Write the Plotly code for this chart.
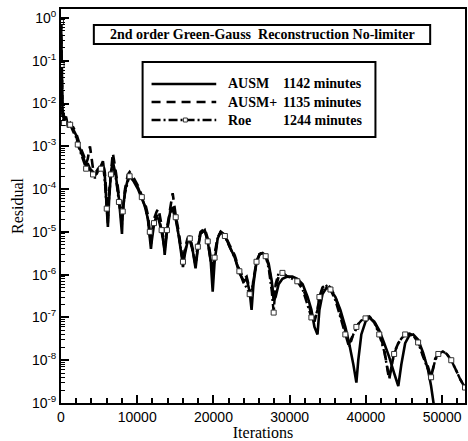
import plotly.graph_objects as go

iters = [0, 20, 50, 80, 130, 200, 400, 650, 900, 1200, 1600, 2000, 2200, 2600, 3000, 3300, 3500, 3800,
         4200, 4450, 4850, 5250, 5500, 5750, 6000, 6150, 6300, 6550, 6800, 7200, 7600, 7850, 8000, 8100,
         8400, 8770, 9000, 9550, 10100, 10600, 11000, 11400, 11650, 11800, 11900, 12200, 12550, 12800,
         13200, 13500, 13600, 13900, 14300, 14650, 15050, 15450, 15850, 16000, 16250, 16600, 16900, 17300,
         17650, 17950, 18300, 18850, 19250, 19650, 19900, 20150, 20550, 20950, 21500, 22100, 22800, 23400,
         24000, 24350, 24750, 25000, 25250, 25650, 26050, 26450, 26850, 27250, 27650, 27900, 28150, 28550,
         29050, 29700, 30350, 31000, 31700, 32350, 32850, 33250, 33650, 33900, 34300, 34850, 35350, 36000,
         36650, 37300, 37800, 38350, 38750, 39000, 39400, 39950, 40450, 41100, 41750, 42400, 43050, 43700,
         44250, 44650, 45150, 45700, 46200, 46850, 47500, 48150, 48550, 48950, 49100, 49500, 50100, 50600,
         51200, 51800, 52400, 53000]

res_ausm = [1.0, 0.6, 0.3, 0.1, 0.02, 6e-3, 4e-3, 5e-3, 3e-3, 3.5e-3, 2.5e-3, 1.8e-3, 1.2e-3, 8e-4, 5e-4,
            3.5e-4, 4e-4, 3e-4, 2.5e-4, 2e-4, 3e-4, 3.5e-4, 4.5e-4, 2e-4, 4e-5, 1.3e-5, 5e-5, 2.5e-4, 4.5e-4,
            2e-4, 6e-5, 2e-5, 9e-6, 3e-5, 9e-5, 1.7e-4, 2e-4, 1.5e-4, 1e-4, 6e-5, 4e-5, 2e-5, 8e-6, 4e-6,
            6e-6, 1.5e-5, 2.2e-5, 2e-5, 1e-5, 5e-6, 2.9e-6, 1e-5, 2.8e-5, 3.3e-5, 2e-5, 8e-6, 2.5e-6, 1.5e-6,
            3e-6, 6e-6, 6.5e-6, 3.5e-6, 1.4e-6, 4e-6, 9e-6, 1.1e-5, 6e-6, 2e-6, 4e-7, 2e-6, 7e-6, 1e-5, 8e-6,
            4.5e-6, 2.5e-6, 1.1e-6, 7e-7, 8e-7, 4e-7, 1.5e-7, 6e-7, 2e-6, 3e-6, 3.2e-6, 2.8e-6, 1.8e-6, 7e-7,
            2.5e-7, 3e-7, 6e-7, 8e-7, 9e-7, 9e-7, 8e-7, 6e-7, 3e-7, 1.5e-7, 6e-8, 4e-8, 1.5e-7, 3.5e-7, 5e-7,
            4.5e-7, 3e-7, 1.5e-7, 6e-8, 2.5e-8, 8e-9, 3e-9, 1e-8, 4e-8, 8e-8, 1e-7, 8e-8, 5e-8, 2.5e-8, 1.2e-8,
            5e-9, 2.5e-9, 8e-9, 2.5e-8, 3.8e-8, 4e-8, 3e-8, 1.5e-8, 6e-9, 2.5e-9, 8e-10, 5e-10, None, None,
            None, None, None, None, None]

res_ausmp = [0.9, 0.5, 0.25, 0.09, 0.03, 7e-3, 5e-3, 4e-3, 3.5e-3, 3e-3, 2.8e-3, 2e-3, 1.5e-3, 9e-4, 6e-4,
             4e-4, 5e-4, 1e-3, 3e-4, 2.5e-4, 2.8e-4, 3.2e-4, 4e-4, 2.5e-4, 6e-5, 2e-5, 8e-5, 3e-4, 7e-4,
             2.5e-4, 8e-5, 3e-5, 2e-5, 3e-5, 1e-4, 2.2e-4, 2.5e-4, 1.8e-4, 1.2e-4, 7e-5, 5e-5, 2.5e-5, 1.2e-5,
             6e-6, 9e-6, 2e-5, 3e-5, 3.5e-5, 1.4e-5, 6e-6, 4e-6, 1.2e-5, 3.5e-5, 8e-5, 2.4e-5, 1e-5, 3e-6,
             2e-6, 4e-6, 7e-6, 8e-6, 4e-6, 2e-6, 5e-6, 1e-5, 1.2e-5, 7e-6, 2.5e-6, 1.2e-6, 3e-6, 7.5e-6, 1e-5,
             8.5e-6, 5e-6, 2.8e-6, 1.3e-6, 8e-7, 9e-7, 5e-7, 3e-7, 8e-7, 2e-6, 3e-6, 3.3e-6, 2.9e-6, 1.6e-6,
             6e-7, 2.5e-7, 5e-7, 9e-7, 1.1e-6, 9e-7, 8.5e-7, 7.5e-7, 5e-7, 2.5e-7, 1.2e-7, 8e-8, 1.5e-7, 3e-7,
             5e-7, 6e-7, 5e-7, 3e-7, 1.2e-7, 5e-8, 2.5e-8, 4e-8, 6e-8, 7e-8, 8.5e-8, 1e-7, 1.05e-7, 8e-8,
             4.5e-8, 1.8e-8, 3.5e-9, 1.5e-8, 2.5e-8, 3.2e-8, 4e-8, 4.2e-8, 3.8e-8, 2.8e-8, 1.3e-8, 7e-9, 4e-9,
             9e-9, 1.1e-8, 1.4e-8, 1.6e-8, 1.4e-8, 1e-8, 6e-9, 3.5e-9, 2.3e-9]

res_roe = [0.8, 0.45, 0.2, 0.08, 0.015, 5e-3, 3.5e-3, 4.5e-3, 2.8e-3, 3.2e-3, 2.2e-3, 1.6e-3, 1.1e-3, 7e-4,
           4.5e-4, 3e-4, 3.5e-4, 2.8e-4, 2.2e-4, 1.8e-4, 2.6e-4, 3e-4, 4e-4, 1.5e-4, 3.5e-5, 1.6e-5, 6e-5,
           2.2e-4, 4e-4, 1.8e-4, 5e-5, 2e-5, 1.5e-5, 3e-5, 8e-5, 1.5e-4, 2e-4, 1.6e-4, 1.1e-4, 6.5e-5, 4e-5,
           2e-5, 1e-5, 5e-6, 8e-6, 1.6e-5, 2.4e-5, 2.4e-5, 1.1e-5, 5e-6, 3.5e-6, 1.1e-5, 3e-5, 3.8e-5, 2.2e-5,
           8e-6, 2.5e-6, 2e-6, 3.5e-6, 6e-6, 7e-6, 3.5e-6, 1.6e-6, 4.5e-6, 9e-6, 1.1e-5, 6e-6, 2.2e-6, 1e-6,
           2.5e-6, 7e-6, 1e-5, 8e-6, 4.5e-6, 2.5e-6, 1.2e-6, 6e-7, 5e-7, 3.5e-7, 4e-7, 8e-7, 2e-6, 3e-6,
           3.2e-6, 2.7e-6, 1.4e-6, 4e-7, 1.3e-7, 6e-7, 1.1e-6, 1.1e-6, 9e-7, 8e-7, 7e-7, 4.5e-7, 2e-7, 1e-7,
           9e-8, 1.5e-7, 3e-7, 4.5e-7, 5.5e-7, 4.5e-7, 2.5e-7, 1e-7, 4e-8, 2e-8, 4e-8, 6e-8, 7e-8, 8.5e-8,
           9.5e-8, 1e-7, 7.5e-8, 4e-8, 1.6e-8, 4e-9, 1.4e-8, 2.5e-8, 3.2e-8, 4e-8, 4.2e-8, 3.8e-8, 2.6e-8,
           1.2e-8, 6e-9, 4e-9, 8e-9, 1e-8, 1.4e-8, 1.6e-8, 1.4e-8, 1e-8, 6e-9, 3.5e-9, 2.3e-9]

y_exps = [-9, -8, -7, -6, -5, -4, -3, -2, -1, 0]
title_text = "2nd order Green-Gauss  Reconstruction No-limiter"
legend_names = ["AUSM", "AUSM+", "Roe"]
legend_times = ["1142 minutes", "1135 minutes", "1244 minutes"]

W, H = 468, 441
ML, MR, MT, MB = 61, 1, 9, 38
PW, PH = W - ML - MR, H - MT - MB


def px(xp):
    return (xp - ML) / PW


def py(yp):
    return (H - MB - yp) / PH


fig = go.Figure()
fig.add_trace(go.Scatter(x=iters, y=res_ausm, mode="lines", name="AUSM",
                         line=dict(color="black", width=2.6, dash="solid"), connectgaps=False))
fig.add_trace(go.Scatter(x=iters, y=res_ausmp, mode="lines", name="AUSM+",
                         line=dict(color="black", width=2.6, dash="9px,6px")))
fig.add_trace(go.Scatter(x=iters, y=res_roe, mode="lines+markers", name="Roe",
                         line=dict(color="black", width=2.4, dash="9px,3px,2px,3px"),
                         marker=dict(symbol="square", size=5, color="white",
                                     line=dict(width=1, color="#333"), maxdisplayed=55)))

serif = "Liberation Serif"
sans = "Liberation Sans"

shapes = []
ann = []
# title box
shapes.append(dict(type="rect", xref="paper", yref="paper", x0=px(94), x1=px(432), y0=py(44), y1=py(25),
                   line=dict(color="black", width=2), fillcolor="white", layer="above"))
ann.append(dict(xref="paper", yref="paper", x=px(263), y=py(34.5), text="<b>" + title_text + "</b>",
                showarrow=False, xanchor="center", yanchor="middle",
                font=dict(family=serif, size=14, color="black")))
# legend box
shapes.append(dict(type="rect", xref="paper", yref="paper", x0=px(143), x1=px(377), y0=py(137), y1=py(62),
                   line=dict(color="black", width=2), fillcolor="white", layer="above"))
dashes = ["solid", "9px,6px", "9px,3px,2px,3px"]
rows = [84, 102, 120]
for i, yy in enumerate(rows):
    shapes.append(dict(type="line", xref="paper", yref="paper", x0=px(152), x1=px(217), y0=py(yy), y1=py(yy),
                       line=dict(color="black", width=2.4, dash=dashes[i]), layer="above"))
    ann.append(dict(xref="paper", yref="paper", x=px(227), y=py(yy), text="<b>" + legend_names[i] + "</b>",
                    showarrow=False, xanchor="left", yanchor="middle",
                    font=dict(family=serif, size=14, color="black")))
    ann.append(dict(xref="paper", yref="paper", x=px(282), y=py(yy), text="<b>" + legend_times[i] + "</b>",
                    showarrow=False, xanchor="left", yanchor="middle",
                    font=dict(family=serif, size=14, color="black")))
shapes.append(dict(type="rect", xref="paper", yref="paper", x0=px(184), x1=px(188), y0=py(122), y1=py(118),
                   line=dict(color="#333", width=1), fillcolor="white", layer="above"))

fig.update_layout(
    width=W, height=H, margin=dict(l=ML, r=MR, t=MT, b=MB),
    paper_bgcolor="white", plot_bgcolor="white", showlegend=False,
    shapes=shapes, annotations=ann,
    xaxis=dict(range=[0, 53000], tickmode="linear", tick0=0, dtick=10000, tickformat="d",
               ticks="inside", ticklen=8,
               tickwidth=2, tickcolor="black", showline=True, linecolor="black", linewidth=2, mirror=True,
               showgrid=False, zeroline=False,
               minor=dict(dtick=2000, ticks="inside", ticklen=5, tickwidth=1.5, tickcolor="black", showgrid=False),
               tickfont=dict(family=sans, size=14, color="black"),
               title=dict(text="Iterations", font=dict(family=serif, size=16, color="black"), standoff=2)),
    yaxis=dict(type="log", range=[-9, 0.21], tickmode="array", tickvals=[10.0 ** e for e in y_exps],
               ticktext=["10<sup>%d</sup>" % e for e in y_exps], ticks="inside", ticklen=8, tickwidth=2,
               tickcolor="black", showline=True, linecolor="black", linewidth=2, mirror=True,
               showgrid=False, zeroline=False,
               minor=dict(dtick="D1", ticks="inside", ticklen=4, tickwidth=1, tickcolor="black", showgrid=False),
               tickfont=dict(family=sans, size=14, color="black"),
               title=dict(text="Residual", font=dict(family=serif, size=16, color="black"), standoff=4)),
)

fig.write_html("out.html")
